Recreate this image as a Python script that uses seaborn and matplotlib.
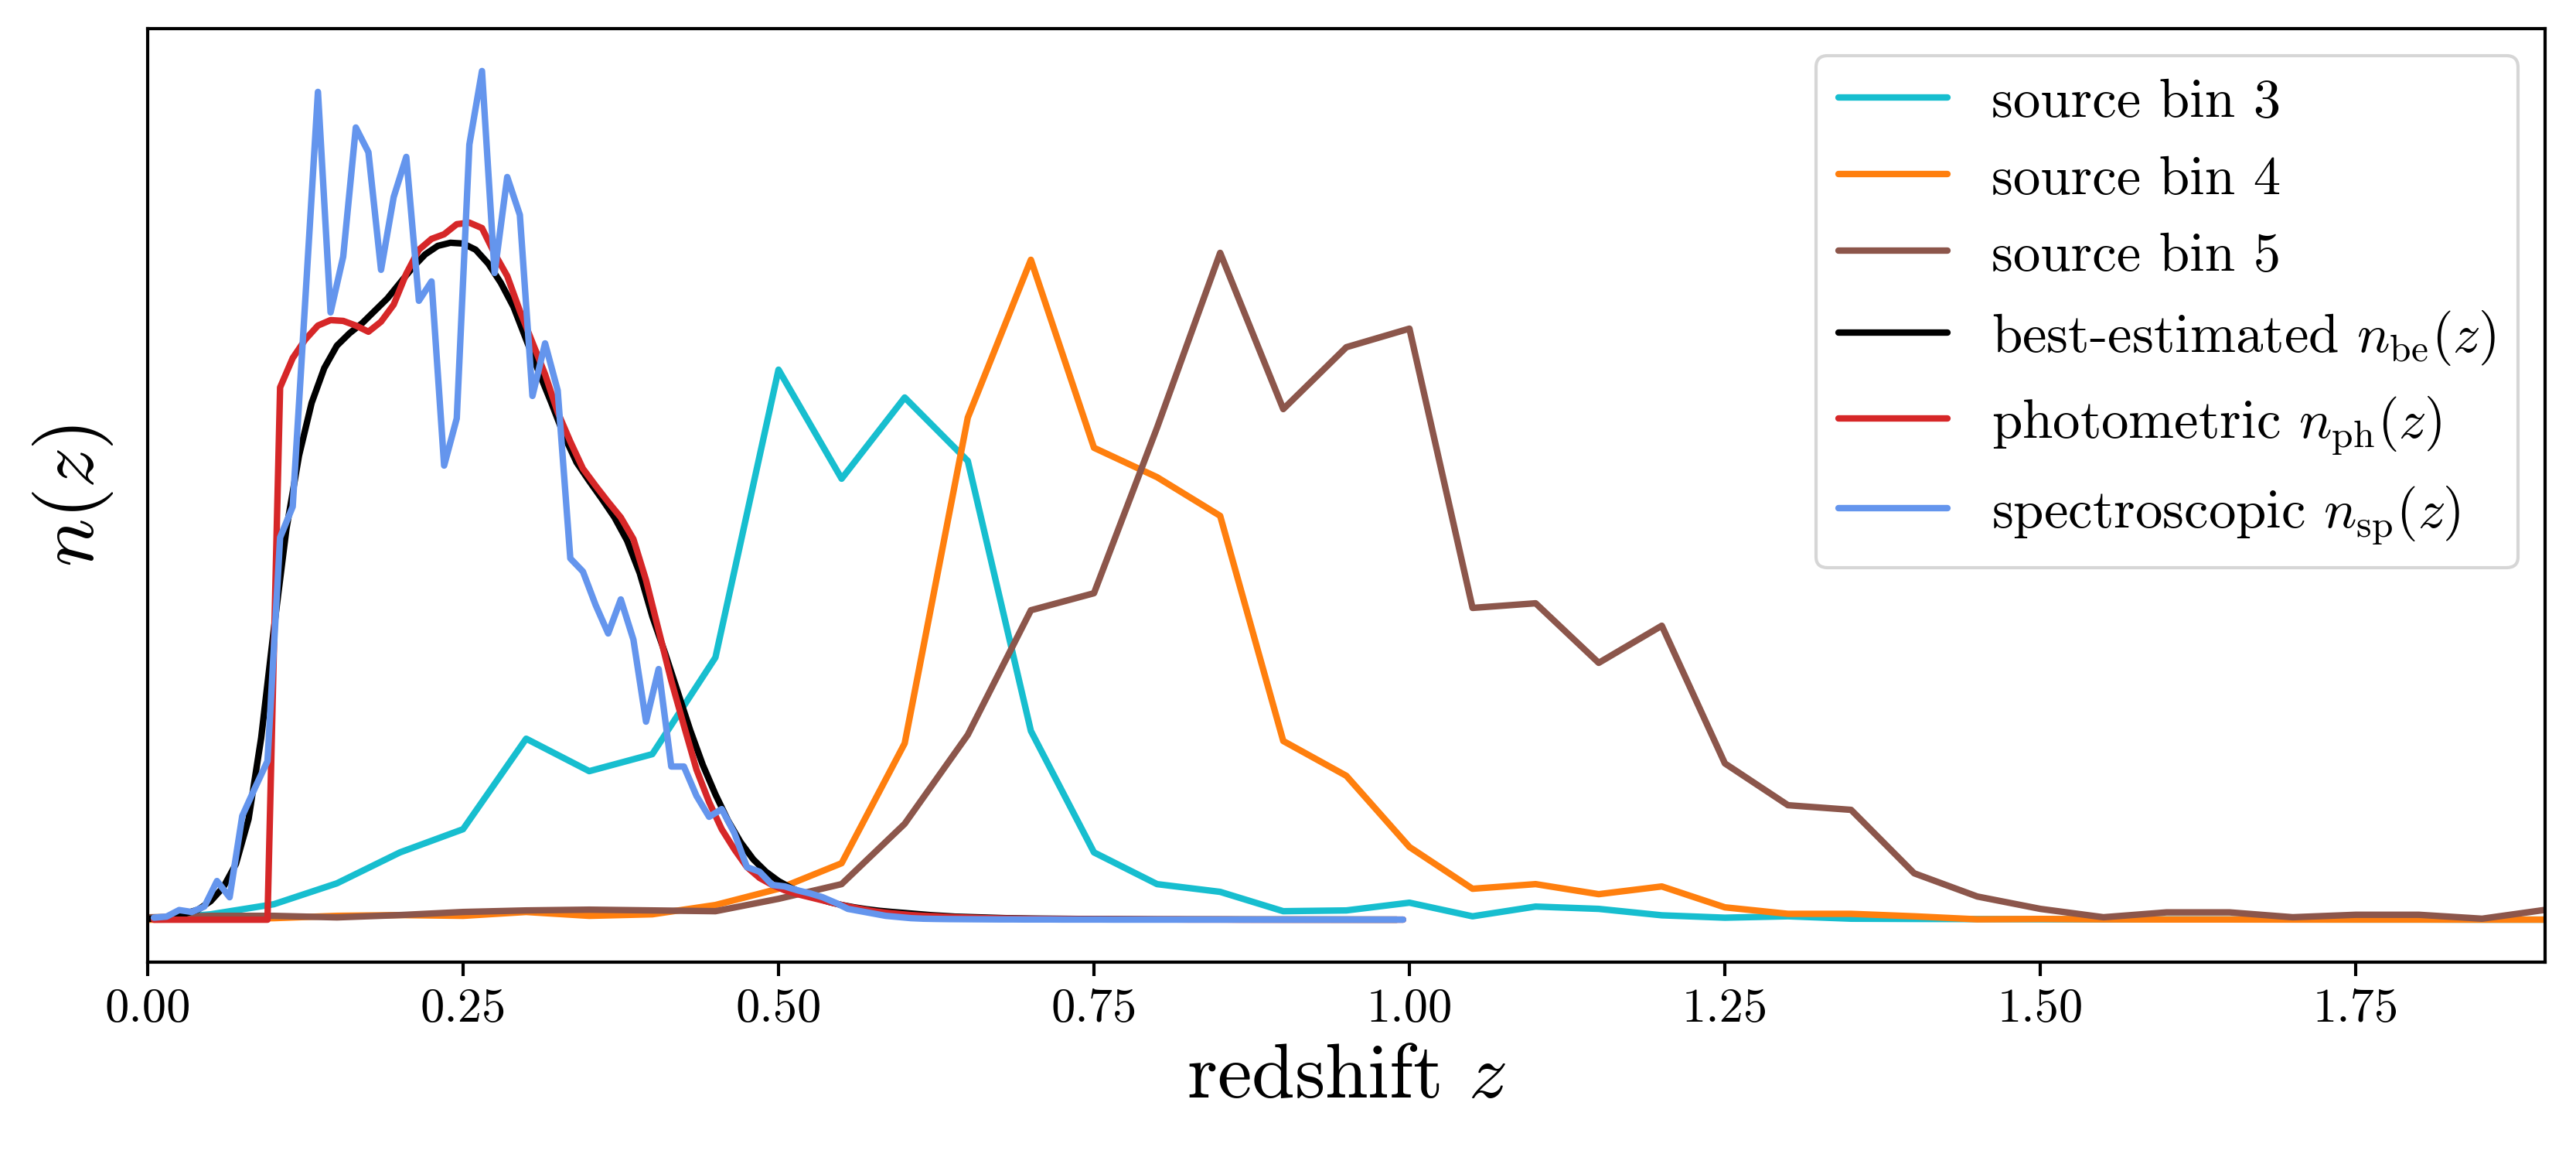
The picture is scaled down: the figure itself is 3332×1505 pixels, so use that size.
import numpy as np
import pandas as pd
import matplotlib
matplotlib.use("Agg")
import matplotlib.pyplot as plt
import seaborn as sns

# ---------------- data (arbitrary units) ----------------
# tomographic source bins, sampled every 0.05 in z
z_bins = np.round(np.arange(0.0, 2.0001, 0.05), 2)
bin3 = [0, 7, 20, 47, 87, 117, 234, 192, 214, 339, 711, 570, 675, 593, 244, 87, 46, 36, 11, 12,
        22, 4.4, 17, 14, 5.7, 2.6, 4.4, 1.3, 1.0, 0.8, 0.6, 0.5, 0.4, 0.3, 0.3, 0.2, 0.2, 0.1, 0.1,
        0.1, 0.1]
bin4 = [0, 1, 2, 5, 6, 5, 10, 5, 7, 19, 40, 73, 228, 649, 853, 610, 572, 522, 231, 186,
        94, 40, 46, 33, 43, 16, 7.6, 7.6, 4.4, 0.5, 1.0, 0.5, 0.3, 0.3, 0.2, 0.2, 0.2, 0.1, 0.1,
        0.1, 0.1]
bin5 = [3, 5, 5, 3, 6, 10, 12, 13, 12, 11, 27, 46, 124, 239, 400, 422, 636, 862, 660, 740,
        764, 403, 409, 332, 380, 202, 148, 142, 60, 30, 14, 3.2, 9.5, 9.5, 3.2, 6.4, 6.4, 1.3,
        12.7, 8, 5]

# best-estimated n_be(z)
z_be = [0.00, 0.01, 0.02, 0.03, 0.04, 0.05, 0.06, 0.07, 0.08, 0.09,
        0.10, 0.11, 0.12, 0.13, 0.14, 0.15, 0.16, 0.17, 0.18, 0.19,
        0.20, 0.21, 0.22, 0.23, 0.24, 0.25, 0.26, 0.27, 0.28, 0.29,
        0.30, 0.31, 0.32, 0.33, 0.34, 0.35, 0.36, 0.37, 0.38, 0.39,
        0.40, 0.41, 0.42, 0.43, 0.44, 0.45, 0.46, 0.47, 0.48, 0.49,
        0.50, 0.51, 0.52, 0.53, 0.54, 0.55, 0.56, 0.57, 0.58, 0.59,
        0.60, 0.62, 0.64, 0.66, 0.68, 0.70, 0.75, 0.80, 0.90, 0.99]
n_be = [1, 2, 4, 8, 13, 24, 42, 72, 130, 235,
        375, 505, 600, 668, 713, 742, 758, 771, 787, 803,
        823, 843, 860, 871, 875, 874, 866, 848, 823, 792,
        750, 708, 668, 626, 591, 567, 544, 520, 490, 448,
        392, 345, 295, 245, 200, 162, 128, 100, 78, 62,
        50, 41, 34, 28, 23, 19, 16, 13.5, 11.5, 10,
        8.7, 6, 4, 3, 2, 1.5, 0.8, 0.4, 0.2, 0.1]

# photometric n_ph(z) and spectroscopic n_sp(z), bins of width 0.01
z_fine = np.round(np.arange(0.005, 1.0, 0.01), 3)
n_ph = [0, 0, 0, 0, 0, 0, 0, 0, 0, 0,
        688, 726, 750, 768, 775, 774, 768, 760, 773, 795,
        835, 866, 880, 886, 899, 901, 894, 861, 832, 787,
        746, 705, 656, 618, 583, 561, 540, 520, 492, 439,
        374, 309, 251, 194, 152, 117, 91, 68, 54, 45,
        38, 33, 29, 25, 21, 17, 14, 11, 9, 7.5,
        6, 5, 4.4, 3.5, 3, 2.5, 2, 1.7, 1.4, 1.2,
        1.0, 0.9, 0.8, 0.7, 0.6, 0.5, 0.5, 0.4, 0.4, 0.3,
        0.3, 0.3, 0.2, 0.2, 0.2, 0.2, 0.1, 0.1, 0.1, 0.1,
        0.1, 0.1, 0.1, 0.1, 0.1, 0.1, 0.1, 0.1, 0.1, 0.1]
n_sp = [2.6, 4, 12.5, 10, 17, 50, 29, 134, 170, 205,
        494, 534, 802, 1070, 785, 857, 1024, 992, 840, 934,
        986, 800, 825, 587, 648, 1002, 1097, 836, 960, 911,
        677, 745, 684, 467, 450, 407, 370, 414, 362, 256,
        324, 198, 198, 160, 133, 143, 112, 68, 62, 45,
        43, 38, 34, 29, 22, 14, 11, 8, 5, 3.5,
        2, 1.3, 1.0, 0.8, 0.7, 0.6, 0.5, 0.4, 0.4, 0.3,
        0.3, 0.3, 0.2, 0.2, 0.2, 0.2, 0.1, 0.1, 0.1, 0.1,
        0.1, 0.1, 0.1, 0.1, 0.1, 0.1, 0.1, 0.1, 0.1, 0.1,
        0.1, 0.1, 0.1, 0.1, 0.1, 0.1, 0.1, 0.1, 0.1, 0.1]

labels = ["source bin 3", "source bin 4", "source bin 5",
          r"best-estimated $n_{\mathrm{be}}(z)$",
          r"photometric $n_{\mathrm{ph}}(z)$",
          r"spectroscopic $n_{\mathrm{sp}}(z)$"]
colors = ["tab:cyan", "tab:orange", "tab:brown", "black", "tab:red", "cornflowerblue"]

# ---------------- style ----------------
sns.set_style("white")
plt.rcParams.update({
    "font.family": "serif",
    "font.serif": ["cmr10"],
    "mathtext.fontset": "cm",
    "axes.formatter.use_mathtext": True,
    "axes.edgecolor": "black",
    "axes.labelcolor": "black",
    "text.color": "black",
    "xtick.color": "black",
    "axes.linewidth": 1.0,
    "xtick.bottom": True,
    "xtick.direction": "out",
    "xtick.major.size": 4.3,
    "xtick.major.width": 1.0,
})

fig = plt.figure(figsize=(3332 / 300, 1506 / 300), dpi=300)
ax = fig.add_axes([0.0573, 0.1733, 0.9307, 0.8015])

series = [(z_bins, bin3), (z_bins, bin4), (z_bins, bin5),
          (z_be, n_be), (z_fine, n_ph), (z_fine, n_sp)]
for (zz, nn), lab, col in zip(series, labels, colors):
    df = pd.DataFrame({"z": zz, "n": nn})
    sns.lineplot(data=df, x="z", y="n", ax=ax, color=col, lw=2.0, label=lab,
                 sort=False, estimator=None)

ax.set_xlim(0, 1.9)
ax.set_xticks([0.0, 0.25, 0.5, 0.75, 1.0, 1.25, 1.5, 1.75])
ax.xaxis.set_major_formatter(matplotlib.ticker.FormatStrFormatter("%.2f"))
ax.set_yticks([])
ax.tick_params(axis="x", labelsize=15)
ax.set_xlabel(r"redshift $z$", fontsize=24)
ax.set_ylabel(r"$n(z)$", fontsize=25, labelpad=10)
ax.legend(loc="upper right", fontsize=17)

fig.savefig("out.png", dpi=300)
